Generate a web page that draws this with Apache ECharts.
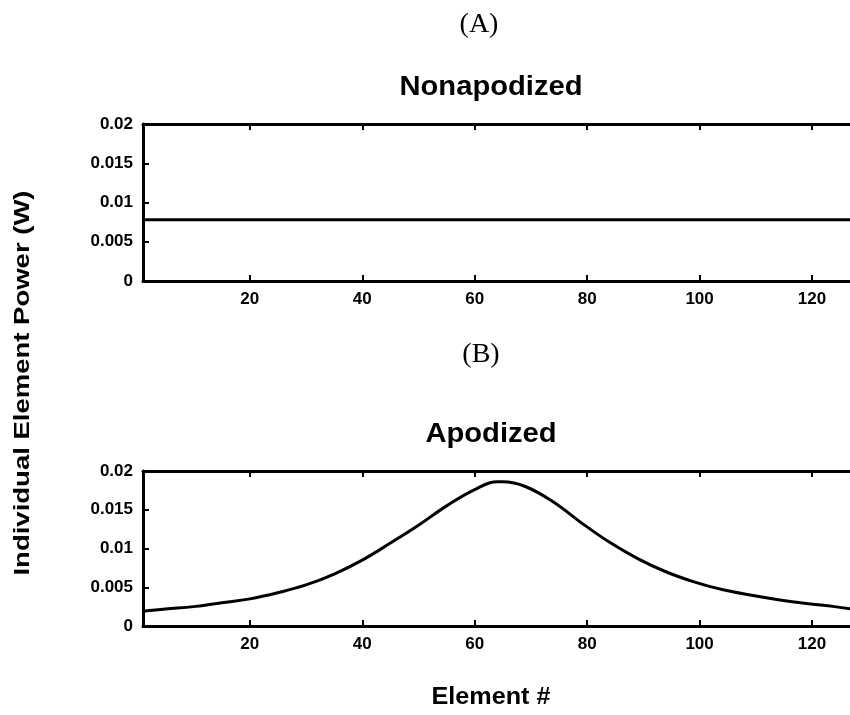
<!DOCTYPE html>
<html>
<head>
<meta charset="utf-8">
<script src="https://cdn.jsdelivr.net/npm/echarts@6/dist/echarts.min.js"></script>
<style>
  html, body { margin: 0; padding: 0; background: #fff; }
  #chart { width: 850px; height: 715px; }
</style>
</head>
<body>
<div id="chart"></div>
<script>
// Element index samples along the 128-element array
const elementIndex = [1, 5, 10, 15, 20, 25, 30, 35, 40, 45, 50, 55, 60, 64, 65, 69, 74, 79, 84, 89, 94, 99, 104, 109, 114, 119, 124, 128];
// Uniform power per element (W)
const nonapodizedPower = [0.0078, 0.0078, 0.0078, 0.0078, 0.0078, 0.0078, 0.0078, 0.0078, 0.0078, 0.0078, 0.0078, 0.0078, 0.0078, 0.0078, 0.0078, 0.0078, 0.0078, 0.0078, 0.0078, 0.0078, 0.0078, 0.0078, 0.0078, 0.0078, 0.0078, 0.0078, 0.0078, 0.0078];
// Apodized power per element (W)
const apodizedPower = [0.0019, 0.0022, 0.0025, 0.0030, 0.0035, 0.0043, 0.0053, 0.0067, 0.0085, 0.0107, 0.0130, 0.0155, 0.0176, 0.0186, 0.0186, 0.0180, 0.0160, 0.0133, 0.0108, 0.0087, 0.0070, 0.0057, 0.0047, 0.0040, 0.0034, 0.0029, 0.0025, 0.0021];
const xTickValues = [20, 40, 60, 80, 100, 120];

const chart = echarts.init(document.getElementById('chart'), null, { renderer: 'canvas' });

const tickFont = { fontFamily: 'Liberation Sans', fontWeight: 'bold', fontSize: 17, color: '#000' };

function bottomAxis(gridIndex) {
  return {
    type: 'value', gridIndex, position: 'bottom', min: 1, max: 128,
    axisLine: { show: true, lineStyle: { color: '#000', width: 3 } },
    axisTick: { show: true, inside: true, length: 6, lineStyle: { color: '#000', width: 2 }, customValues: xTickValues },
    axisLabel: Object.assign({ margin: 10, customValues: xTickValues }, tickFont),
    splitLine: { show: false }
  };
}
function topAxis(gridIndex) {
  return {
    type: 'value', gridIndex, position: 'top', min: 1, max: 128,
    axisLine: { show: true, lineStyle: { color: '#000', width: 3 } },
    axisTick: { show: true, inside: true, length: 6, lineStyle: { color: '#000', width: 2 }, customValues: xTickValues },
    axisLabel: { show: false },
    splitLine: { show: false }
  };
}
function leftAxis(gridIndex) {
  return {
    type: 'value', gridIndex, min: 0, max: 0.02, interval: 0.005,
    axisLine: { show: true, lineStyle: { color: '#000', width: 3 } },
    axisTick: { show: true, inside: true, length: 6, lineStyle: { color: '#000', width: 2 } },
    axisLabel: Object.assign({ margin: 10, formatter: v => String(+v.toFixed(3)) }, tickFont),
    splitLine: { show: false }
  };
}

function toPairs(ys) { return elementIndex.map((x, i) => [x, ys[i]]); }

const headFont = 'Liberation Sans';

chart.setOption({
  animation: false,
  backgroundColor: '#fff',
  grid: [
    { left: 143, top: 124, width: 714, height: 157, outerBoundsMode: 'none', containLabel: false },
    { left: 143, top: 471, width: 714, height: 155, outerBoundsMode: 'none', containLabel: false }
  ],
  xAxis: [bottomAxis(0), topAxis(0), bottomAxis(1), topAxis(1)],
  yAxis: [leftAxis(0), leftAxis(1)],
  series: [
    {
      name: 'Nonapodized', type: 'line', xAxisIndex: 0, yAxisIndex: 0,
      data: toPairs(nonapodizedPower), showSymbol: false,
      lineStyle: { color: '#000', width: 3 }
    },
    {
      name: 'Apodized', type: 'line', xAxisIndex: 2, yAxisIndex: 1,
      data: toPairs(apodizedPower), showSymbol: false, smooth: 0.4,
      lineStyle: { color: '#000', width: 3 }
    }
  ],
  graphic: [
    { type: 'text', x: 479, y: 25, style: { text: '(A)', fontFamily: 'Liberation Serif', fontSize: 28, fill: '#000', align: 'center', verticalAlign: 'middle' } },
    { type: 'text', x: 491, y: 88, scaleX: 1.08, style: { text: 'Nonapodized', fontFamily: headFont, fontWeight: 'bold', fontSize: 27, fill: '#000', align: 'center', verticalAlign: 'middle' } },
    { type: 'text', x: 481, y: 355, style: { text: '(B)', fontFamily: 'Liberation Serif', fontSize: 28, fill: '#000', align: 'center', verticalAlign: 'middle' } },
    { type: 'text', x: 491, y: 435, scaleX: 1.08, style: { text: 'Apodized', fontFamily: headFont, fontWeight: 'bold', fontSize: 27, fill: '#000', align: 'center', verticalAlign: 'middle' } },
    { type: 'text', x: 491, y: 697, scaleX: 1.05, style: { text: 'Element #', fontFamily: headFont, fontWeight: 'bold', fontSize: 24, fill: '#000', align: 'center', verticalAlign: 'middle' } },
    { type: 'text', x: 23, y: 383, rotation: Math.PI / 2, scaleX: 1.25, style: { text: 'Individual Element Power (W)', fontFamily: headFont, fontWeight: 'bold', fontSize: 22, fill: '#000', align: 'center', verticalAlign: 'middle' } }
  ]
});
</script>
</body>
</html>
